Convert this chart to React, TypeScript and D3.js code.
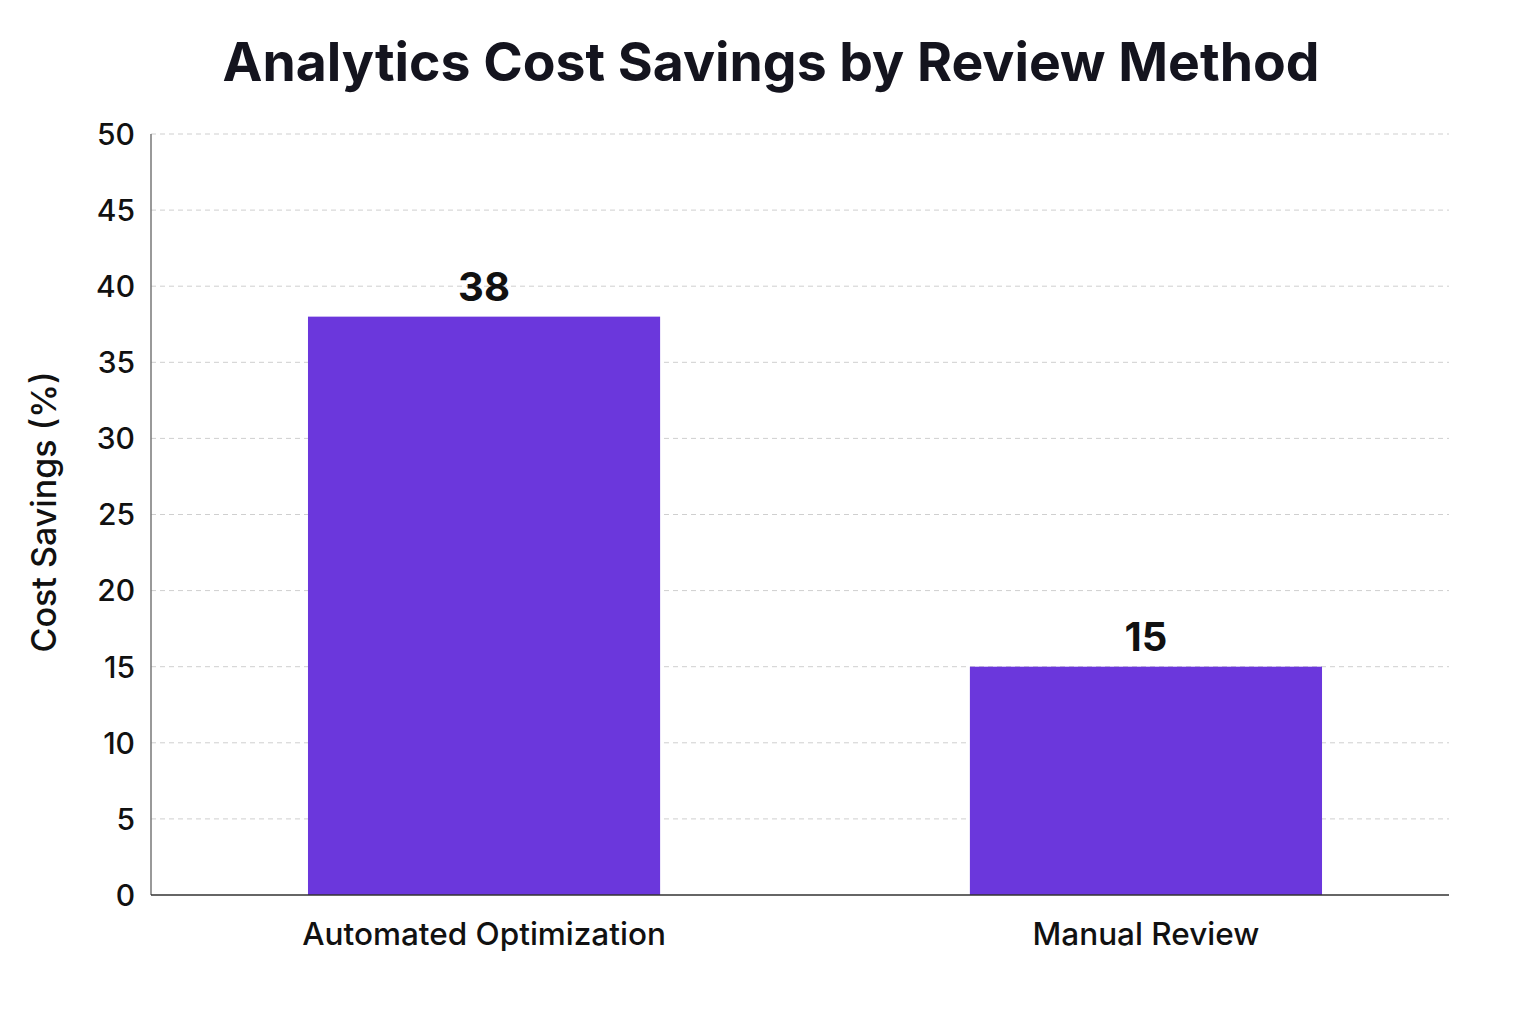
import React from "react";
import * as d3 from "d3";

const categories = ["Automated Optimization", "Manual Review"];
const savings = [38, 15];
const yTicks = [0, 5, 10, 15, 20, 25, 30, 35, 40, 45, 50];
const title = "Analytics Cost Savings by Review Method";
const yLabel = "Cost Savings (%)";

const W = 1536;
const H = 1024;
const left = 151;
const right = 1449;
const top = 134;
const bottom = 895;
const FONT = "Inter, 'Noto Sans', sans-serif";

export default function App() {
  const x = d3
    .scaleBand<string>()
    .domain(categories)
    .range([left + 15, right + 15])
    .paddingInner(0.468)
    .paddingOuter(0.2145);
  const y = d3.scaleLinear().domain([0, 50]).range([bottom, top]);

  return (
    <svg
      width={W}
      height={H}
      style={{ position: "absolute", left: 0, top: 0, background: "#fff" }}
    >
      <rect width={W} height={H} fill="#fff" />
      <text
        x={771}
        y={81}
        textAnchor="middle"
        fontFamily={FONT}
        fontWeight={700}
        fontSize={53.5}
        fill="#14141e"
      >
        {title}
      </text>
      {yTicks.map((t) => (
        <g key={t}>
          {t > 0 && (
            <line
              x1={left}
              x2={right}
              y1={y(t)}
              y2={y(t)}
              stroke="#cfcfcf"
              strokeWidth={1}
              strokeDasharray="5,4"
            />
          )}
          <text
            x={135}
            y={y(t)}
            dy="0.36em"
            textAnchor="end"
            fontFamily={FONT}
            fontWeight={500}
            fontSize={30}
            fill="#111"
          >
            {t}
          </text>
        </g>
      ))}
      <line x1={left} x2={left} y1={top} y2={bottom} stroke="#777" strokeWidth={1.5} />
      {categories.map((c, i) => (
        <g key={c}>
          <rect
            x={x(c)}
            y={y(savings[i])}
            width={x.bandwidth()}
            height={bottom - y(savings[i])}
            fill="#6b37dc"
          />
          <text
            x={(x(c) as number) + x.bandwidth() / 2}
            y={y(savings[i]) - 16}
            textAnchor="middle"
            fontFamily={FONT}
            fontWeight={700}
            fontSize={40}
            fill="#111"
          >
            {savings[i]}
          </text>
          <text
            x={(x(c) as number) + x.bandwidth() / 2}
            y={945}
            textAnchor="middle"
            fontFamily={FONT}
            fontWeight={500}
            fontSize={31.5}
            fill="#111"
          >
            {c}
          </text>
        </g>
      ))}
      <line x1={left} x2={right} y1={bottom} y2={bottom} stroke="#333" strokeWidth={1.5} />
      <text
        transform={`translate(56, 512) rotate(-90)`}
        textAnchor="middle"
        fontFamily={FONT}
        fontWeight={500}
        fontSize={34}
        fill="#111"
      >
        {yLabel}
      </text>
    </svg>
  );
}
